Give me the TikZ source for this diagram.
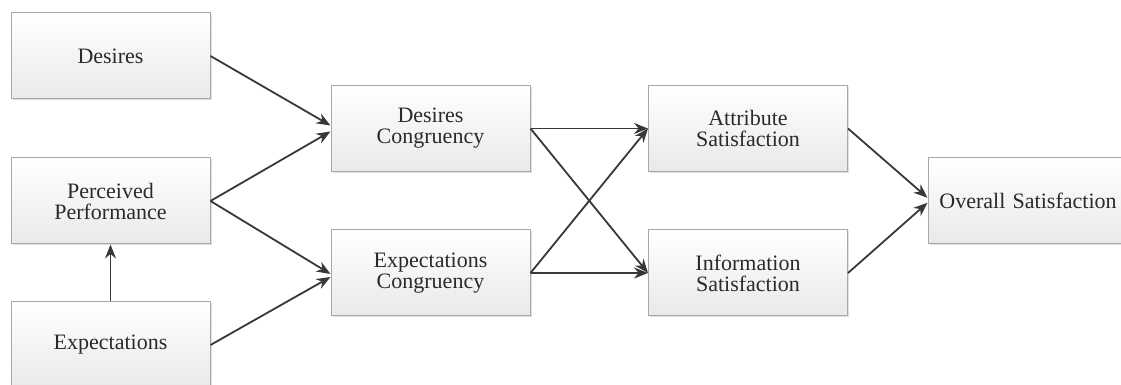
\documentclass[tikz,border=0pt]{standalone}
\usepackage{fontspec}
\setmainfont{Liberation Serif}
\usetikzlibrary{arrows.meta,shadows}
\definecolor{boxline}{HTML}{A8A8A8}
\definecolor{boxtop}{HTML}{FFFFFF}
\definecolor{boxbottom}{HTML}{E9E9E9}
\definecolor{ink}{HTML}{2A2A2A}
\definecolor{link}{HTML}{383838}
\begin{document}
\begin{tikzpicture}[x=1pt,y=1pt,
  stagebox/.style={draw=boxline, line width=1pt, top color=boxtop, bottom color=boxbottom,
    minimum width=199pt, minimum height=86pt, inner sep=0pt, align=center,
    text=ink, font=\fontsize{22}{21}\selectfont,
    drop shadow={shadow xshift=1.5pt, shadow yshift=-1.5pt, opacity=0.25, fill=gray}},
  flow/.style={draw=link, line width=1.8pt, -{Stealth[length=14pt,width=11pt]}}]
\useasboundingbox (0,0) rectangle (1121,385);
\begin{scope}
\clip (0,0) rectangle (1121,385);
% first column
\node[stagebox] (des)  at (110.5,329) {Desires};
\node[stagebox] (perf) at (110.5,184) {Perceived\\Performance};
\node[stagebox] (exp)  at (110.5,40)  {Expectations};
% congruency column
\node[stagebox] (dc) at (430.5,256.5) {Desires\\Congruency};
\node[stagebox] (ec) at (430.5,112)   {Expectations\\Congruency};
% satisfaction column
\node[stagebox] (as) at (748,256.5) {Attribute\\Satisfaction};
\node[stagebox] (is) at (748,112)   {Information\\Satisfaction};
\node[stagebox, minimum width=200pt, text width=196pt, xshift=2pt] (os) at (1026,184.25) {Overall Satisfaction};
\end{scope}
% connectors
\draw[flow] (des.east) -- ([yshift=3pt]dc.west);
\draw[flow] (perf.east) -- ([yshift=-3pt]dc.west);
\draw[flow] (perf.east) -- ([yshift=-1pt]ec.west);
\draw[flow] (exp.east) -- ([yshift=-4pt]ec.west);
\draw[flow] (exp.north) -- (perf.south);
\draw[flow] (dc.east) -- (as.west);
\draw[flow] (ec.east) -- (as.west);
\draw[flow] (dc.east) -- (is.west);
\draw[flow] (ec.east) -- (is.west);
\draw[flow] (as.east) -- ([yshift=3pt]os.west);
\draw[flow] (is.east) -- ([yshift=-2pt]os.west);
\end{tikzpicture}
\end{document}
